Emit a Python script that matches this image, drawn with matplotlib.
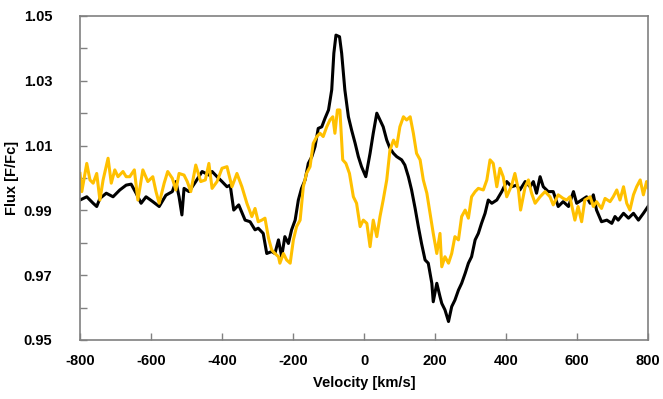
import matplotlib
matplotlib.use("Agg")
import matplotlib.pyplot as plt
from matplotlib.ticker import MultipleLocator

# black spectrum (velocity km/s, normalised flux)
v_black = [-800, -781, -763, -753, -744, -726, -707, -688, -670, -656, -642, -628, -614,
           -595, -577, -558, -540, -530, -521, -513, -507, -493, -474, -456, -437, -428,
           -414, -400, -386, -377, -367, -353, -335, -321, -307, -298, -284, -274, -260,
           -251, -241, -232, -223, -213, -204, -194, -185, -176, -166, -157, -147, -138,
           -129, -119, -110, -100, -91, -85, -79, -69, -63, -54, -44, -35, -25, -16, -7,
           5, 17, 26, 36, 45, 54, 64, 73, 83, 92, 106, 115, 125, 134, 144, 153, 162, 172,
           181, 191, 195, 205, 214, 219, 228, 238, 247, 256, 266, 275, 285, 294, 303, 313,
           322, 331, 341, 350, 360, 374, 388, 402, 416, 430, 439, 454, 468, 477, 486, 496,
           505, 519, 533, 547, 561, 576, 590, 599, 613, 627, 637, 646, 655, 669, 684, 698,
           707, 716, 731, 745, 759, 773, 787, 800]
f_black = [0.9932, 0.9942, 0.9922, 0.9912, 0.9937, 0.9953, 0.9942, 0.9963, 0.9978, 0.9981,
           0.9953, 0.9922, 0.9942, 0.9927, 0.9912, 0.9947, 0.9958, 0.9989, 0.9942, 0.9886,
           0.9968, 0.9958, 0.9989, 1.0020, 1.0009, 1.0020, 1.0004, 0.9989, 0.9973, 0.9978,
           0.9901, 0.9917, 0.9870, 0.9865, 0.9840, 0.9845, 0.9829, 0.9767, 0.9773, 0.9767,
           0.9809, 0.9757, 0.9819, 0.9798, 0.9840, 0.9870, 0.9932, 0.9968, 0.9994, 1.0045,
           1.0066, 1.0097, 1.0153, 1.0158, 1.0184, 1.0210, 1.0272, 1.0385, 1.0441, 1.0436,
           1.0385, 1.0272, 1.0189, 1.0148, 1.0107, 1.0066, 1.0035, 1.0004, 1.0076, 1.0138,
           1.0200, 1.0179, 1.0158, 1.0117, 1.0092, 1.0076, 1.0066, 1.0056, 1.0040, 1.0004,
           0.9963, 0.9906, 0.9850, 0.9798, 0.9747, 0.9737, 0.9675, 0.9618, 0.9675, 0.9634,
           0.9613, 0.9593, 0.9557, 0.9603, 0.9623, 0.9654, 0.9675, 0.9706, 0.9737, 0.9757,
           0.9809, 0.9829, 0.9860, 0.9891, 0.9932, 0.9922, 0.9932, 0.9958, 0.9989, 0.9973,
           0.9978, 0.9963, 0.9989, 0.9973, 0.9989, 0.9953, 1.0004, 0.9973, 0.9958, 0.9958,
           0.9912, 0.9927, 0.9912, 0.9958, 0.9922, 0.9932, 0.9942, 0.9922, 0.9948, 0.9901,
           0.9865, 0.9870, 0.9860, 0.9881, 0.9870, 0.9891, 0.9876, 0.9891, 0.9870, 0.9891,
           0.9912]

# gold spectrum
v_gold = [-800, -795, -781, -772, -763, -753, -744, -735, -721, -712, -702, -693, -679,
          -670, -660, -647, -637, -623, -609, -595, -586, -577, -563, -553, -540, -530,
          -521, -507, -498, -488, -474, -460, -447, -437, -428, -414, -400, -386, -372,
          -358, -344, -330, -316, -307, -298, -288, -279, -269, -260, -251, -241, -237,
          -227, -218, -208, -199, -190, -180, -171, -162, -152, -143, -133, -124, -115,
          -105, -96, -88, -82, -75, -68, -60, -51, -41, -30, -21, -11, -2, 8, 17, 26, 36,
          45, 54, 64, 73, 83, 92, 101, 111, 120, 130, 139, 148, 158, 167, 177, 186, 195,
          205, 214, 219, 228, 238, 247, 256, 266, 275, 285, 294, 303, 313, 322, 336, 346,
          355, 364, 374, 383, 392, 402, 416, 425, 435, 441, 454, 463, 472, 482, 496, 510,
          524, 533, 547, 561, 571, 580, 594, 603, 613, 622, 637, 646, 655, 669, 679, 693,
          702, 712, 721, 731, 740, 749, 759, 768, 778, 787, 796, 800]
f_gold = [1.0014, 0.9958, 1.0045, 0.9994, 0.9984, 1.0014, 0.9932, 0.9994, 1.0061, 0.9984,
          1.0025, 1.0004, 1.0020, 1.0004, 1.0004, 1.0025, 0.9932, 1.0025, 0.9989, 1.0004,
          0.9958, 0.9922, 0.9984, 1.0020, 0.9999, 0.9963, 1.0014, 1.0009, 0.9989, 0.9958,
          1.0040, 0.9989, 0.9994, 1.0045, 0.9968, 0.9989, 1.0030, 1.0035, 0.9973, 1.0014,
          0.9973, 0.9922, 0.9881, 0.9906, 0.9865, 0.9870, 0.9876, 0.9814, 0.9778, 0.9767,
          0.9757, 0.9737, 0.9767, 0.9747, 0.9737, 0.9809, 0.9850, 0.9870, 0.9973, 1.0014,
          1.0035, 1.0107, 1.0128, 1.0138, 1.0128, 1.0158, 1.0179, 1.0189, 1.0138, 1.0210,
          1.0210, 1.0056, 1.0045, 1.0014, 0.9942, 0.9922, 0.9850, 0.9870, 0.9860, 0.9788,
          0.9870, 0.9819, 0.9881, 0.9932, 0.9994, 1.0086, 1.0117, 1.0097, 1.0158, 1.0189,
          1.0179, 1.0189, 1.0138, 1.0076, 1.0056, 0.9994, 0.9953, 0.9891, 0.9829, 0.9767,
          0.9829, 0.9726, 0.9757, 0.9737, 0.9767, 0.9819, 0.9809, 0.9881, 0.9901, 0.9876,
          0.9942, 0.9958, 0.9968, 0.9963, 0.9994, 1.0056, 1.0045, 0.9973, 1.0030, 1.0004,
          0.9942, 0.9978, 1.0014, 0.9963, 0.9901, 0.9973, 0.9994, 0.9953, 0.9922, 0.9942,
          0.9958, 0.9942, 0.9917, 0.9948, 0.9937, 0.9932, 0.9942, 0.9870, 0.9912, 0.9865,
          0.9932, 0.9942, 0.9912, 0.9927, 0.9906, 0.9937, 0.9927, 0.9942, 0.9963, 0.9932,
          0.9973, 0.9922, 0.9901, 0.9948, 0.9973, 0.9994, 0.9948, 0.9989, 0.9970]

plt.rcParams['font.family'] = ['Liberation Sans', 'DejaVu Sans']
plt.rcParams['font.weight'] = 'bold'
plt.rcParams['axes.unicode_minus'] = False

fig = plt.figure(figsize=(6.63, 3.99), dpi=100)
ax = fig.add_axes([0.1207, 0.1479, 0.8567, 0.812])

ax.plot(v_black, f_black, color='black', linewidth=2.2)
ax.plot(v_gold, f_gold, color='#FFC000', linewidth=2.2)

ax.set_xlim(-800, 800)
ax.set_ylim(0.95, 1.05)
ax.xaxis.set_major_locator(MultipleLocator(200))
ax.set_yticks([0.95, 0.97, 0.99, 1.01, 1.03, 1.05])
ax.set_yticks([0.96, 0.98, 1.00, 1.02, 1.04], minor=True)
ax.yaxis.set_major_formatter(plt.FormatStrFormatter('%.2f'))

for s in ax.spines.values():
    s.set_color('#808080')
    s.set_linewidth(1.2)
ax.tick_params(axis='both', which='both', direction='in', length=5, color='#808080',
               width=1.0, labelsize=10.5)
ax.tick_params(axis='x', pad=10)
ax.tick_params(axis='y', pad=20)

ax.set_xlabel('Velocity [km/s]', fontsize=10.5, fontweight='bold', labelpad=6)
ax.set_ylabel('Flux [F/Fc]', fontsize=10.5, fontweight='bold', labelpad=3)

fig.savefig('out.png', dpi=100)
